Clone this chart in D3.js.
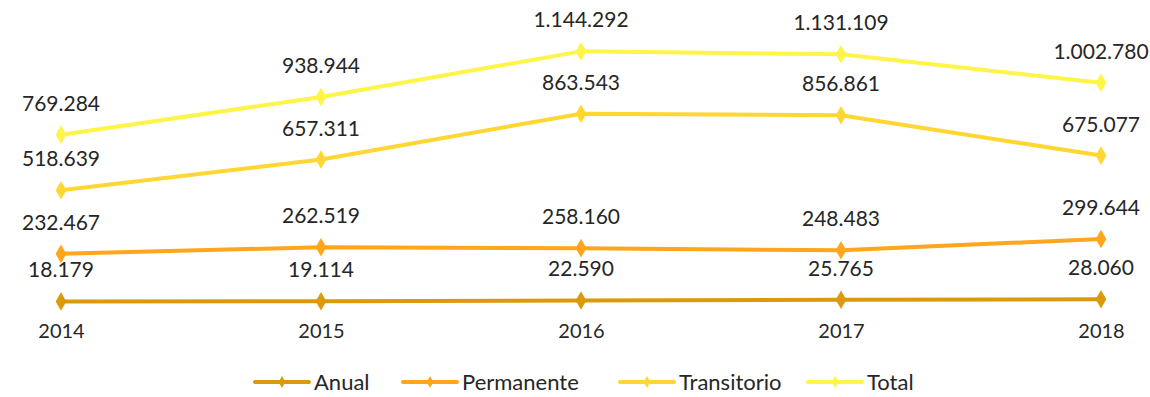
<!DOCTYPE html>
<html>
<head>
<meta charset="utf-8">
<script src="https://cdn.jsdelivr.net/npm/d3@7"></script>
<style>
  html, body { margin: 0; padding: 0; background: #ffffff; }
  svg { display: block; font-family: "Century Gothic", "Lato", "Open Sans", sans-serif; }
</style>
</head>
<body>
<svg id="chart" width="1150" height="397"></svg>
<script>
// Categories (years)
const years = ["2014", "2015", "2016", "2017", "2018"];

// Series values
const anual       = [18179, 19114, 22590, 25765, 28060];
const permanente  = [232467, 262519, 258160, 248483, 299644];
const transitorio = [518639, 657311, 863543, 856861, 675077];
const total       = [769284, 938944, 1144292, 1131109, 1002780];

const seriesNames  = ["Anual", "Permanente", "Transitorio", "Total"];
const seriesColors = ["#DA9A0C", "#FFA61C", "#FFD632", "#FFF448"];
const seriesValues = [anual, permanente, transitorio, total];

const svg = d3.select("#chart");

const x = d3.scalePoint().domain(years).range([61, 1101]);
const y = d3.scaleLinear().domain([0, 1200000]).range([305.5, 39]);

const locale = d3.formatLocale({ decimal: ",", thousands: ".", grouping: [3], currency: ["", ""] });
const fmt = locale.format(",d");

const line = d3.line()
  .x((d, i) => x(years[i]))
  .y(d => y(d));

const diamond = d3.symbol().type(d3.symbolDiamond).size(100);

// Lines, markers and value labels
seriesValues.forEach((vals, s) => {
  const g = svg.append("g");
  g.append("path")
    .datum(vals)
    .attr("d", line)
    .attr("fill", "none")
    .attr("stroke", seriesColors[s])
    .attr("stroke-width", 4)
    .attr("stroke-linejoin", "round");
  g.selectAll("path.m")
    .data(vals)
    .join("path")
    .attr("class", "m")
    .attr("d", diamond)
    .attr("transform", (d, i) => `translate(${x(years[i])},${y(d)})`)
    .attr("fill", seriesColors[s]);
  g.selectAll("text")
    .data(vals)
    .join("text")
    .attr("x", (d, i) => x(years[i]))
    .attr("y", d => y(d) - 24)
    .attr("text-anchor", "middle")
    .attr("font-size", 21)
    .attr("fill", "#262626")
    .text(d => fmt(d));
});

// Category axis labels
svg.append("g")
  .attr("transform", "translate(0,305)")
  .call(d3.axisBottom(x).tickSize(0).tickPadding(19))
  .call(g => g.select(".domain").remove())
  .selectAll("text")
  .attr("font-size", 20)
  .attr("font-family", "Century Gothic, Lato, Open Sans, sans-serif")
  .attr("fill", "#262626");

// Legend
const legendX = [255, 403, 620, 808];
const legend = svg.append("g").attr("transform", "translate(0,382)");
seriesNames.forEach((name, s) => {
  const item = legend.append("g").attr("transform", `translate(${legendX[s]},0)`);
  item.append("line")
    .attr("x1", 0).attr("x2", 54)
    .attr("stroke", seriesColors[s]).attr("stroke-width", 4)
    .attr("stroke-linecap", "round");
  item.append("path")
    .attr("d", d3.symbol().type(d3.symbolDiamond).size(40))
    .attr("transform", "translate(27,0)")
    .attr("fill", seriesColors[s]);
  item.append("text")
    .attr("x", 59).attr("y", 0)
    .attr("dy", "0.36em")
    .attr("font-size", 22)
    .attr("fill", "#262626")
    .text(name);
});
</script>
</body>
</html>
